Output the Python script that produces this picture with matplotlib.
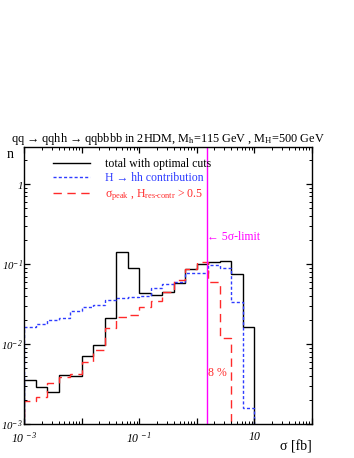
import numpy as np
import matplotlib
matplotlib.use('Agg')
import matplotlib.pyplot as plt
from matplotlib.ticker import LogLocator, NullFormatter

plt.rcParams['font.family'] = ['Liberation Serif', 'DejaVu Serif']
# math roman is italic here (tick labels are italic numbers);
# \mathsf is used for the upright subscripts
plt.rcParams['mathtext.fontset'] = 'custom'
plt.rcParams['mathtext.rm'] = 'Liberation Serif:italic'
plt.rcParams['mathtext.it'] = 'Liberation Serif:italic'
plt.rcParams['mathtext.sf'] = 'Liberation Serif'

# bin edges: 0.2 decades wide, from 1e-3 fb to 10 fb
log_edges = np.arange(-3.0, 1.01, 0.2)
edges = 10 ** log_edges

# values, one per bin
total = [3.6e-3, 2.9e-3, 2.5e-3, 4.1e-3, 4.0e-3, 7.2e-3, 9.8e-3, 0.021, 0.142, 0.089,
         0.044, 0.041, 0.045, 0.058, 0.086, 0.100, 0.105, 0.108, 0.0755, 0.0163]
hh_contr = [0.0163, 0.0178, 0.0198, 0.0215, 0.026, 0.029, 0.031, 0.036, 0.038, 0.0385,
            0.040, 0.050, 0.056, 0.059, 0.077, 0.0785, 0.098, 0.089, 0.0335, 0.00158]
peak = [1.97e-3, 2.18e-3, 3.3e-3, 3.9e-3, 4.3e-3, 6.0e-3, 8.5e-3, 0.0158, 0.022, 0.023,
        0.029, 0.035, 0.045, 0.064, 0.087, 0.105, 0.059, 0.012]
limit_5sigma = 1.5

xtick_vals = [1e-3, 1e-2, 1e-1, 1, 10, 100]
xtick_text = [r'$10^{\,-3}$', '', r'$10^{\,-1}$', '', r'$10$', '']
ytick_vals = [1e-3, 1e-2, 1e-1, 1]
ytick_text = [r'$10^{-3}$', r'$10^{-2}$', r'$10^{-1}$', r'$1$']

blue = '#2e3cff'
red = '#ff2a2a'

fig = plt.figure(figsize=(3.54, 4.58), dpi=100)
ax = fig.add_axes([0.0686, 0.0736, 0.8124, 0.6054])
ax.set_xscale('log')
ax.set_yscale('log')
ax.set_xlim(1e-3, 1e2)
ax.set_ylim(1e-3, 2.9)

base = 1e-5
ax.stairs(total, edges, baseline=base, color='black', lw=1.0,
          label='total with optimal cuts')
ax.stairs(hh_contr, edges, baseline=base, color=blue, lw=1.0,
          linestyle=(0, (2.2, 1.6)), label='H \u2192 hh contribution')
ax.stairs(peak, edges[:len(peak) + 1], baseline=base, color=red, lw=1.0,
          linestyle=(0, (6, 4)),
          label='\u03c3$_{\\mathsf{peak}}$ , H$_{\\mathsf{res\u2010contr}}$ > 0.5')

ax.axvline(limit_5sigma, color='#ff00ff', lw=1.0)
ax.text(limit_5sigma, 0.22, '\u2190 5\u03c3-limit', color='#ff00ff', fontsize=8.5,
        ha='left', va='center')
ax.text(1.55, 4.4e-3, '8 %', color=red, fontsize=8.5, ha='left', va='center')

leg = ax.legend(loc='upper left', bbox_to_anchor=(0.068, 0.995), frameon=False,
                fontsize=8.5, handlelength=3.1, handletextpad=1.3,
                labelspacing=0.22, borderaxespad=0.4)
for txt, col in zip(leg.get_texts(), ['black', blue, red]):
    txt.set_color(col)

ax.set_title('qq \u2192 qqhh \u2192 qqbbbb in 2HDM, M$_{\\mathsf{h}}$=115 GeV , '
             'M$_{\\mathsf{H}}$=500 GeV', fontsize=8.8, pad=3)

# ticks
ax.set_xticks(xtick_vals)
ax.set_xticklabels(xtick_text)
ax.set_yticks(ytick_vals)
ax.set_yticklabels(ytick_text)
for axis in (ax.xaxis, ax.yaxis):
    axis.set_minor_locator(LogLocator(base=10, subs=np.arange(2, 10), numticks=20))
    axis.set_minor_formatter(NullFormatter())
ax.tick_params(which='both', direction='in', top=True, right=True, labelsize=8.5)
ax.tick_params(which='major', length=4.5, width=0.9)
ax.tick_params(which='minor', length=2.2, width=0.7)
ax.tick_params(axis='x', pad=5)
ax.tick_params(axis='y', pad=1, labelsize=7.8)
for sp in ax.spines.values():
    sp.set_linewidth(1.0)

fig.text(0.028, 0.662, 'n', fontsize=10, ha='center', va='center')
fig.text(0.881, 0.024, '\u03c3 [fb]', fontsize=10, ha='right', va='center')

fig.savefig('out.png', dpi=100)
